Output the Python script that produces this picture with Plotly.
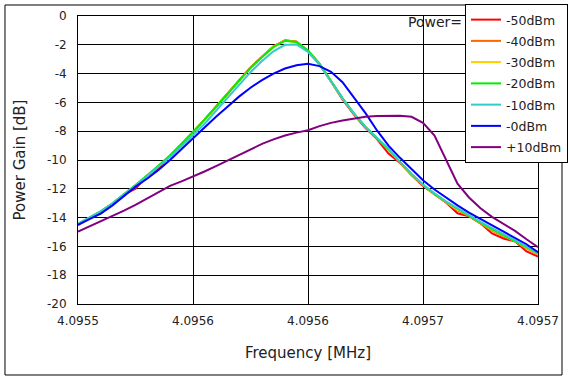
import plotly.graph_objects as go

# Frequency offsets from 4.0955 MHz, in Hz
offset_hz = [0, 5, 10, 15, 20, 25, 30, 35, 40, 45, 50, 55, 60, 65, 70, 75, 80, 85, 90, 95, 100,
             105, 110, 115, 120, 125, 130, 135, 140, 145, 150, 155, 160, 165, 170, 175, 180, 185, 190, 195, 200]
freq_mhz = [4.0955 + h * 1e-6 for h in offset_hz]

gain_m50 = [-14.5, -14.05, -13.7, -13.05, -12.4, -12.0, -11.1, -10.6, -9.7, -8.9, -8.1, -7.2, -6.3, -5.4, -4.45,
            -3.58, -2.82, -2.1, -1.68, -1.78, -2.42, -3.35, -4.55, -5.8, -6.85, -7.78, -8.55, -9.55, -10.2,
            -11.05, -11.8, -12.4, -12.95, -13.7, -13.9, -14.4, -15.1, -15.45, -15.65, -16.35, -16.7]
gain_m40 = [-14.46, -14.02, -13.58, -13.02, -12.42, -11.78, -11.1, -10.45, -9.7, -8.9, -8.06, -7.2, -6.32, -5.42,
            -4.47, -3.6, -2.84, -2.13, -1.7, -1.79, -2.42, -3.33, -4.53, -5.74, -6.8, -7.72, -8.5, -9.3, -10.18,
            -11.02, -11.76, -12.4, -12.95, -13.5, -13.9, -14.42, -14.9, -15.3, -15.66, -16.15, -16.55]
gain_m30 = [-14.45, -14.01, -13.56, -13.01, -12.4, -11.76, -11.08, -10.42, -9.69, -8.89, -8.05, -7.2, -6.31, -5.41,
            -4.46, -3.6, -2.84, -2.13, -1.71, -1.8, -2.41, -3.32, -4.52, -5.72, -6.79, -7.71, -8.49, -9.27, -10.16,
            -11.0, -11.74, -12.37, -12.92, -13.45, -13.87, -14.38, -14.85, -15.25, -15.62, -16.1, -16.52]
gain_m20 = [-14.44, -14.0, -13.55, -13.0, -12.38, -11.74, -11.07, -10.4, -9.68, -8.88, -8.05, -7.2, -6.3, -5.4,
            -4.45, -3.6, -2.85, -2.15, -1.72, -1.8, -2.4, -3.3, -4.5, -5.7, -6.78, -7.7, -8.48, -9.25, -10.15,
            -10.98, -11.72, -12.35, -12.9, -13.4, -13.85, -14.35, -14.8, -15.2, -15.6, -16.05, -16.48]
gain_m10 = [-14.44, -14.0, -13.55, -13.0, -12.4, -11.78, -11.12, -10.48, -9.8, -9.05, -8.28, -7.5, -6.58, -5.68,
            -4.75, -3.9, -3.13, -2.45, -2.0, -1.98, -2.5, -3.38, -4.55, -5.72, -6.78, -7.7, -8.46, -9.22, -10.12,
            -10.95, -11.7, -12.32, -12.87, -13.37, -13.82, -14.3, -14.75, -15.15, -15.56, -16.0, -16.45]
gain_0 = [-14.51, -14.1, -13.7, -13.15, -12.5, -11.85, -11.3, -10.7, -10.0, -9.25, -8.5, -7.7, -7.0, -6.3, -5.6,
          -4.98, -4.45, -4.0, -3.65, -3.42, -3.32, -3.48, -3.88, -4.6, -5.65, -6.75, -7.95, -9.0, -9.85, -10.65,
          -11.4, -12.05, -12.62, -13.15, -13.65, -14.1, -14.55, -15.0, -15.4, -15.85, -16.4]
gain_p10 = [-14.98, -14.62, -14.28, -13.92, -13.52, -13.12, -12.68, -12.22, -11.8, -11.48, -11.16, -10.8, -10.43,
            -10.05, -9.65, -9.25, -8.88, -8.57, -8.3, -8.1, -7.93, -7.65, -7.42, -7.25, -7.1, -7.0, -6.94, -6.92,
            -6.93, -7.0, -7.42, -8.3, -10.0, -11.65, -12.6, -13.35, -13.95, -14.42, -14.92, -15.5, -16.05]

series_names = ["-50dBm", "-40dBm", "-30dBm", "-20dBm", "-10dBm", "-0dBm", "+10dBm"]
series_values = [gain_m50, gain_m40, gain_m30, gain_m20, gain_m10, gain_0, gain_p10]
series_colors = ["#FF0000", "#FF6600", "#FFCC00", "#00EE00", "#33CCCC", "#0000FF", "#800080"]

x_tick_vals = [4.09550, 4.09555, 4.09560, 4.09565, 4.09570]
x_tick_text = ["4.0955", "4.0956", "4.0956", "4.0957", "4.0957"]
y_tick_vals = [0, -2, -4, -6, -8, -10, -12, -14, -16, -18, -20]
y_tick_text = ["0", "-2", "-4", "-6", "-8", "-10", "-12", "-14", "-16", "-18", "-20"]

FONT = "DejaVu Sans"

fig = go.Figure()
for name, vals, col in zip(series_names, series_values, series_colors):
    fig.add_trace(go.Scatter(x=freq_mhz, y=vals, mode="lines", name=name, legendgroup=name,
                             line=dict(color=col, width=2)))

fig.update_layout(
    width=570, height=382,
    margin=dict(l=78, r=32, t=16, b=78, autoexpand=False),
    paper_bgcolor="white", plot_bgcolor="white",
    font=dict(family=FONT, size=12, color="#222222"),
    showlegend=True,
    legend=dict(xref="container", yref="container", x=465 / 570, y=1 - 4 / 382,
                xanchor="left", yanchor="top", traceorder="grouped",
                bgcolor="white", bordercolor="black", borderwidth=1,
                font=dict(family=FONT, size=12.5, color="#222222"),
                tracegroupgap=2),
    shapes=[dict(type="rect", xref="paper", yref="paper",
                 x0=-0.1587, x1=1.0522, y0=-0.2465, y1=1.0382,
                 line=dict(color="black", width=1), layer="below")],
    annotations=[dict(text="Power=", xref="paper", yref="paper", x=0.713, y=0.979,
                      xanchor="left", yanchor="middle", showarrow=False,
                      font=dict(family=FONT, size=14, color="#222222"))],
)
fig.update_xaxes(range=[4.09550, 4.09570], tickvals=x_tick_vals, ticktext=x_tick_text,
                 showgrid=True, gridcolor="black", gridwidth=1, automargin=False,
                 showline=True, linecolor="black", linewidth=1, mirror=True,
                 ticks="outside", ticklen=6, tickcolor="rgba(0,0,0,0)",
                 zeroline=False,
                 title=dict(text="Frequency [MHz]", font=dict(family=FONT, size=15, color="#222222"),
                            standoff=20))
fig.update_yaxes(range=[-20, 0], tickvals=y_tick_vals, ticktext=y_tick_text,
                 showgrid=True, gridcolor="black", gridwidth=1, automargin=False,
                 showline=True, linecolor="black", linewidth=1, mirror=True,
                 ticks="outside", ticklen=8, tickcolor="rgba(0,0,0,0)",
                 zeroline=False,
                 title=dict(text="Power Gain [dB]", font=dict(family=FONT, size=15, color="#222222"),
                            standoff=17))

fig.write_html("out.html", config={"displayModeBar": False},
               post_script="document.body.style.margin='0px';")
